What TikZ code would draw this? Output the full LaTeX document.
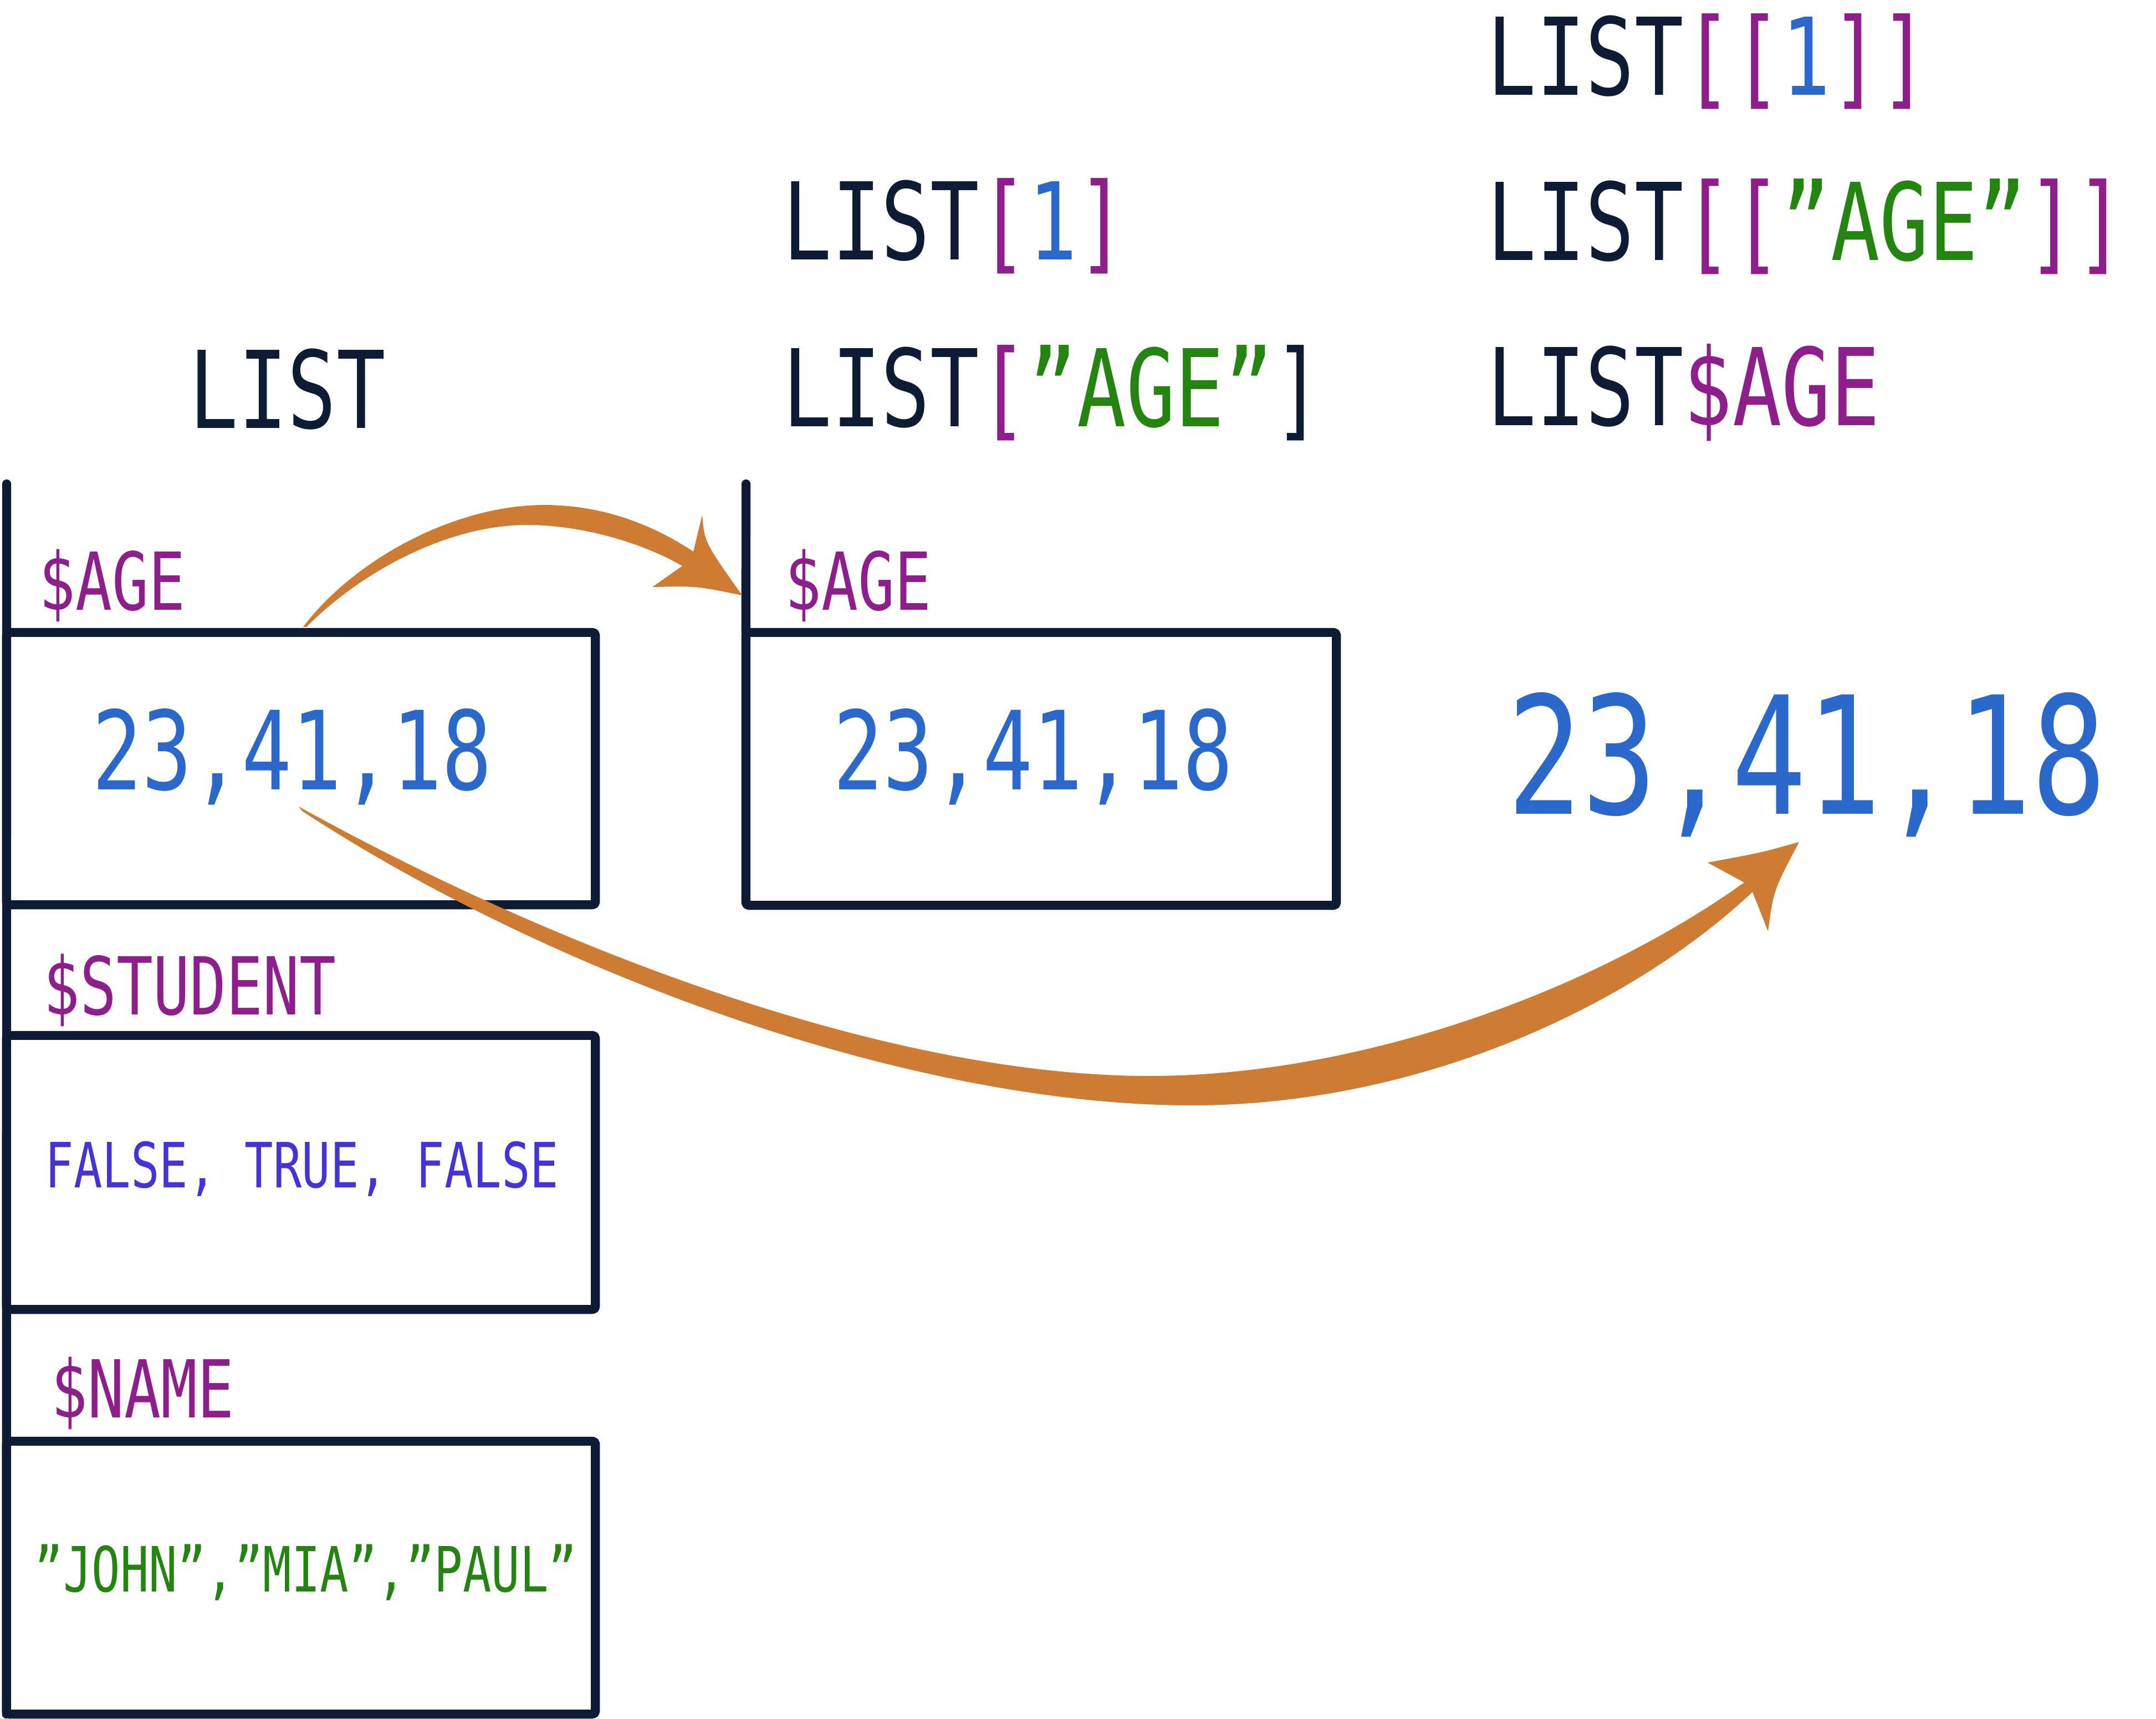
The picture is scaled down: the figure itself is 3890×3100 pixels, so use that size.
\documentclass[tikz,border=0pt]{standalone}
\usepackage{fontspec}
\newfontfamily\hand[FakeStretch=0.76]{DejaVu Sans Mono}
\definecolor{navy}{HTML}{0D1B35}
\definecolor{lpurple}{HTML}{8E1E8C}
\definecolor{lblue}{HTML}{2B68CB}
\definecolor{lgreen}{HTML}{23850F}
\definecolor{lviolet}{HTML}{4433D8}
\definecolor{lorange}{HTML}{CE7C34}
\begin{document}
\begin{tikzpicture}[x=0.01cm,y=-0.01cm,
  frame/.style={draw=navy, line width=4.6pt, line cap=round, line join=round},
  box/.style={frame, rectangle, rounded corners=1.5pt, inner sep=0pt, outer sep=0pt, minimum width=10.62cm},
  code/.style={inner sep=0pt, anchor=base west, text=navy, font=\hand\fontsize{55pt}{60pt}\selectfont},
  lbl/.style={inner sep=0pt, anchor=base west, text=lpurple, font=\hand\fontsize{41pt}{46pt}\selectfont},
  nums/.style={inner sep=0pt, anchor=base, text=lblue, font=\hand\fontsize{56pt}{60pt}\selectfont},
  bignums/.style={inner sep=0pt, anchor=base, text=lblue, font=\hand\fontsize{84pt}{90pt}\selectfont},
  vals/.style={inner sep=0pt, anchor=base, font=\hand\fontsize{32pt}{36pt}\selectfont},
  brush/.style={fill=lorange, draw=none}]
\fill[white] (0,0) rectangle (3890,3100);
% boxes
\node[box, minimum height=4.91cm] (boxA) at (543,1386.5) {};
\node[box, minimum height=4.94cm] (boxB) at (543,2115) {};
\node[box, minimum height=4.92cm] (boxC) at (543,2846) {};
\node[box, minimum width=10.65cm, minimum height=4.92cm] (boxD) at (1878.5,1387) {};
\coordinate (ltop) at (12,873);
\coordinate (mtop) at (1346,873);
\draw[frame] (ltop) -- (boxC.south west);
\draw[frame] (mtop) -- (boxD.north west);
% headings
\node[code] (t1) at (341,772) {LIST};
\node[code] (t2) at (1412,468) {LIST\textcolor{lpurple}{[}\textcolor{lblue}{1}\textcolor{lpurple}{]}};
\node[code] (t3) at (1412,769) {LIST\textcolor{lpurple}{[}\textcolor{lgreen}{”AGE”}]};
\node[code] (t4) at (2683,171) {LIST\textcolor{lpurple}{[[}\textcolor{lblue}{1}\textcolor{lpurple}{]]}};
\node[code] (t5) at (2683,469) {LIST\textcolor{lpurple}{[[}\textcolor{lgreen}{”AGE”}\textcolor{lpurple}{]]}};
\node[code] (t6) at (2683,767) {LIST\textcolor{lpurple}{\$AGE}};
% labels
\node[lbl] (la) at (70,1100) {\$AGE};
\node[lbl] (ld) at (1416,1100) {\$AGE};
\node[lbl] (ls) at (78,1830) {\$STUDENT};
\node[lbl] (ln) at (92,2557) {\$NAME};
% values
\node[nums] (va) at (527,1424) {23,41,18};
\node[nums] (vd) at (1864,1424) {23,41,18};
\node[bignums] (vbig) at (3260,1468) {23,41,18};
\node[vals, text=lviolet] (vs) at (545,2142) {FALSE, TRUE, FALSE};
\node[vals, text=lgreen] (vn) at (552,2871) {”JOHN”,”MIA”,”PAUL”};
% arrows
\coordinate (a1s) at (547,1131);
\coordinate (a1e) at (1339,1074);
\coordinate (a2s) at (539,1455);
\coordinate (a2e) at (3246,1519);
\fill[brush] (a1s) .. controls (638,1010) and (820,911) .. (982,911)
  .. controls (1100,911) and (1190,955) .. (1251,995) -- (1267,929)
  .. controls (1271,978) .. (a1e) .. controls (1256,1057) .. (1177,1059)
  -- (1231,1021) .. controls (1170,985) and (1060,947) .. (951,947)
  .. controls (800,947) and (642,1040) .. (553,1131) -- cycle;
\fill[brush] (a2s) .. controls (1000,1710) and (1600,1941) .. (2074,1941)
  .. controls (2450,1941) and (2870,1790) .. (3147,1592) -- (3081,1556)
  .. controls (3178,1538) .. (a2e) .. controls (3200,1606) .. (3190,1680)
  -- (3162,1609) .. controls (2934,1823) and (2550,1994) .. (2150,1994)
  .. controls (1650,1994) and (1000,1760) .. (545,1463) -- cycle;
\end{tikzpicture}
\end{document}
